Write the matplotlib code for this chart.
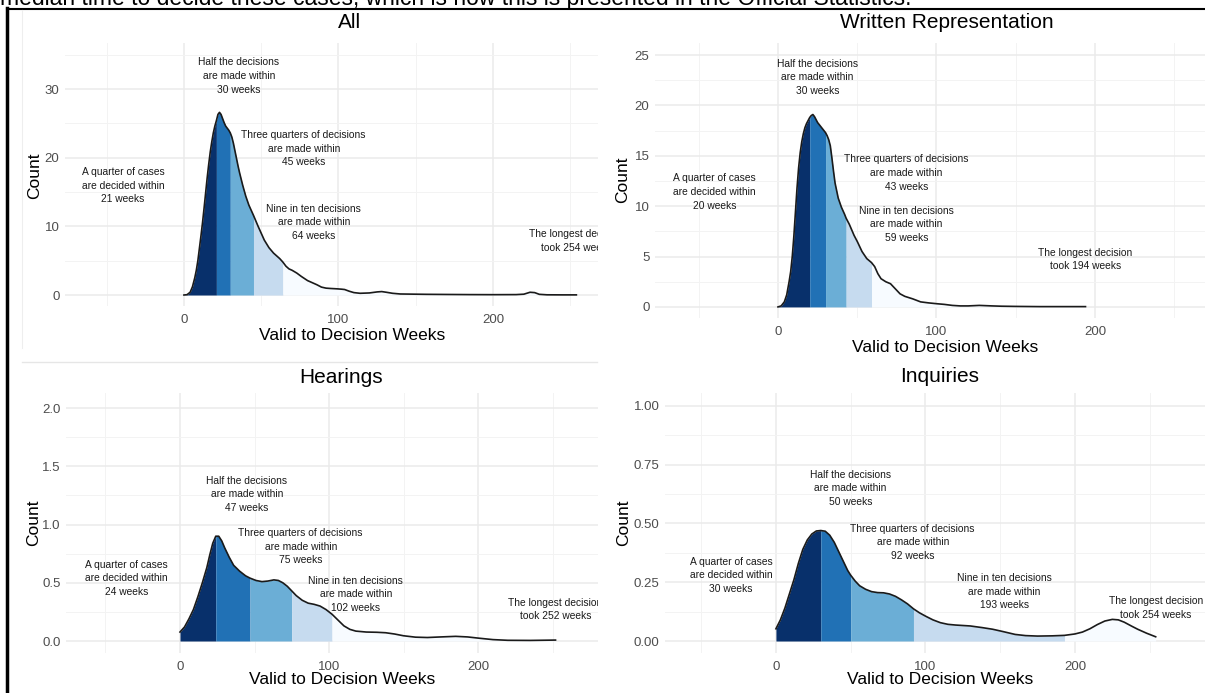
import numpy as np
import matplotlib
matplotlib.use("Agg")
import matplotlib.pyplot as plt
from matplotlib.lines import Line2D
from matplotlib.ticker import MultipleLocator, FormatStrFormatter

plt.rcParams['font.family'] = ['Liberation Sans', 'DejaVu Sans']

# density curves (weeks, count)
all_x = [0, 2, 4, 5.5, 7, 8, 9, 10, 11, 12, 13, 14, 15, 16, 17, 18, 19, 20, 21, 22, 23, 24, 25, 26,
         27, 28, 29, 30, 31, 32, 33, 34, 35, 36, 38, 40, 42, 45, 48, 50, 52, 55, 58, 60, 62, 64, 66,
         68, 70, 73, 76, 80, 83, 86, 89, 92, 95, 99, 102, 104, 107, 110, 114, 120, 125, 128, 131,
         135, 140, 150, 157, 170, 185, 200, 215, 220, 224, 227, 230, 235, 245, 254]
all_y = [0, 0.05, 0.4, 1.2, 2.5, 3.6, 5, 6.8, 8.6, 10.5, 12.6, 14.8, 17, 19, 20.8, 22.3, 23.6, 24.6,
         25.4, 26.3, 26.6, 26.3, 25.7, 25.1, 24.6, 24.3, 24, 23.6, 23, 22.1, 21, 19.9, 18.8, 17.8,
         16, 14.4, 13.1, 11.6, 10, 9, 8, 6.9, 6.1, 5.7, 5.3, 4.8, 4.2, 3.8, 3.6, 3.2, 2.7, 2.1, 1.8,
         1.5, 1.15, 1.0, 0.95, 0.9, 0.85, 0.8, 0.55, 0.35, 0.25, 0.3, 0.45, 0.5, 0.4, 0.25, 0.15,
         0.12, 0.1, 0.08, 0.06, 0.05, 0.06, 0.12, 0.4, 0.35, 0.1, 0.03, 0.02, 0.02]
all_q = [21, 30, 45, 64, 254]

written_x = [0, 2, 4, 5.5, 7, 8, 9, 10, 11, 12, 13, 14, 15, 16, 17, 18, 19, 20, 21, 22, 23, 24, 25,
             26, 27, 28, 29, 30, 31, 32, 33, 34, 35, 36, 38, 40, 42, 43, 45, 48, 50, 53, 56, 59, 61,
             63, 65, 68, 71, 74, 77, 80, 85, 90, 95, 100, 105, 110, 115, 120, 127, 135, 141, 150,
             165, 180, 194]
written_y = [0, 0.1, 0.5, 1.2, 2.5, 3.5, 5, 7, 9.4, 11.8, 13.8, 15.3, 16.4, 17.2, 17.8, 18.2, 18.5,
             18.8, 19.0, 19.1, 18.9, 18.6, 18.3, 18.1, 17.9, 17.7, 17.5, 17.3, 17.0, 16.6, 16, 14.8,
             13.5, 12.3, 10.8, 9.9, 9.2, 8.8, 8.2, 7.1, 6.5, 5.5, 4.8, 4.4, 4.0, 3.3, 2.8, 2.5, 2.3,
             1.8, 1.3, 1.05, 0.8, 0.5, 0.4, 0.32, 0.25, 0.15, 0.1, 0.1, 0.15, 0.1, 0.07, 0.05, 0.03,
             0.03, 0.03]
written_q = [20, 30, 43, 59, 194]

hearings_x = [0, 3, 6, 9, 12, 15, 18, 20, 22, 24, 26, 28, 30, 33, 36, 40, 44, 47, 51, 55, 59, 63,
              66, 69, 72, 75, 78, 82, 86, 90, 94, 98, 102, 106, 110, 114, 118, 125, 132, 138, 144,
              150, 158, 166, 175, 185, 193, 200, 210, 220, 235, 252]
hearings_y = [0.077, 0.12, 0.19, 0.27, 0.38, 0.5, 0.63, 0.74, 0.84, 0.9, 0.9, 0.86, 0.8, 0.72, 0.65,
              0.6, 0.56, 0.54, 0.52, 0.51, 0.515, 0.525, 0.52, 0.5, 0.47, 0.43, 0.39, 0.35, 0.325,
              0.315, 0.3, 0.27, 0.23, 0.18, 0.13, 0.1, 0.085, 0.077, 0.075, 0.071, 0.06, 0.045,
              0.033, 0.03, 0.035, 0.04, 0.035, 0.025, 0.012, 0.006, 0.005, 0.008]
hearings_q = [24, 47, 75, 102, 252]

inquiries_x = [0, 3, 6, 9, 12, 15, 18, 21, 24, 27, 30, 33, 36, 39, 42, 45, 48, 50, 53, 56, 60, 64,
               68, 72, 76, 80, 84, 88, 92, 96, 100, 105, 110, 115, 120, 130, 138, 145, 152, 160,
               167, 175, 185, 193, 200, 205, 210, 215, 220, 225, 229, 233, 238, 242, 248, 254]
inquiries_y = [0.052, 0.09, 0.14, 0.2, 0.26, 0.33, 0.39, 0.43, 0.455, 0.468, 0.47, 0.467, 0.45,
               0.42, 0.38, 0.34, 0.3, 0.28, 0.255, 0.235, 0.22, 0.21, 0.206, 0.205, 0.2, 0.19,
               0.175, 0.158, 0.137, 0.12, 0.106, 0.09, 0.078, 0.071, 0.068, 0.064, 0.057, 0.05,
               0.04, 0.028, 0.023, 0.021, 0.022, 0.024, 0.03, 0.038, 0.052, 0.07, 0.085, 0.092,
               0.09, 0.08, 0.063, 0.05, 0.033, 0.018]
inquiries_q = [30, 50, 92, 193, 254]

blues = ['#08306B', '#2171B5', '#6BAED6', '#C6DBEF', '#F7FBFF']

W, H = 1205, 693
fig = plt.figure(figsize=(W / 100, H / 100), dpi=100)


def px_axes(l, r, t, b):
    return fig.add_axes([l / W, 1 - b / H, (r - l) / W, (b - t) / H])


def fig_text(x, y, s, **kw):
    fig.text(x / W, 1 - y / H, s, ha='center', va='center', **kw)


def panel(box, xlim, ylim, ymaj, fmt, xs, ys, q, title, tpos, xlpos, ylpos, notes):
    ax = px_axes(*box)
    ax.set_xlim(*xlim)
    ax.set_ylim(*ylim)
    for s in ax.spines.values():
        s.set_visible(False)
    ax.xaxis.set_major_locator(MultipleLocator(100))
    ax.xaxis.set_minor_locator(MultipleLocator(50))
    ax.yaxis.set_major_locator(MultipleLocator(ymaj))
    ax.yaxis.set_minor_locator(MultipleLocator(ymaj / 2))
    ax.yaxis.set_major_formatter(FormatStrFormatter(fmt))
    ax.grid(which='major', color='#EBEBEB', lw=1.1)
    ax.grid(which='minor', color='#F3F3F3', lw=0.7)
    ax.set_axisbelow(True)
    ax.tick_params(which='both', length=0, labelsize=9.5, labelcolor='#4D4D4D')
    ax.tick_params(axis='y', pad=4)
    ax.tick_params(axis='x', pad=6)

    x = np.array(xs, dtype=float)
    y = np.array(ys, dtype=float)
    lo = 0
    for hi, c in zip(q, blues):
        m = (x >= lo) & (x <= hi)
        ax.fill_between(x, 0, y, where=m, color=c, lw=0, zorder=2)
        lo = hi
    ax.plot(x, y, color='#1a1a1a', lw=1.2, zorder=3, solid_joinstyle='round')

    texts = ["A quarter of cases\nare decided within\n%d weeks" % q[0],
             "Half the decisions\nare made within\n%d weeks" % q[1],
             "Three quarters of decisions\nare made within\n%d weeks" % q[2],
             "Nine in ten decisions\nare made within\n%d weeks" % q[3],
             "The longest decision\ntook %d weeks" % q[4]]
    for s, (tx, ty) in zip(texts, notes):
        ax.text(tx, ty, s, ha='center', va='center', fontsize=7.4, color='#1a1a1a',
                linespacing=1.45, clip_on=True, zorder=4)

    fig_text(*tpos, title, fontsize=15)
    fig_text(*xlpos, "Valid to Decision Weeks", fontsize=12.5)
    fig_text(*ylpos, "Count", fontsize=12.5, rotation=90)
    return ax


panel((65, 598, 43, 306), (-77, 268), (-1.6, 36.7), 10, '%d', all_x, all_y, all_q,
      "All", (350, 23), (352, 335), (35, 176),
      [(-39.5, 15.9), (35.5, 31.9), (77.5, 21.3), (84, 10.6), (254, 7.9)])

panel((655, 1205, 43, 318), (-77.6, 269.4), (-1.1, 26.2), 5, '%d', written_x, written_y, written_q,
      "Written Representation", (947, 22), (945, 348), (623, 180),
      [(-40, 11.4), (25, 22.8), (81, 13.3), (81, 8.2), (194, 4.7)])

panel((66, 598, 393, 653), (-76.5, 280.5), (-0.103, 2.13), 0.5, '%.1f', hearings_x, hearings_y,
      hearings_q, "Hearings", (341, 377), (342, 680), (34, 523),
      [(-36, 0.54), (45, 1.26), (81, 0.81), (118, 0.40), (252, 0.27)])

panel((665, 1205, 393, 653), (-74.2, 287), (-0.051, 1.055), 0.25, '%.2f', inquiries_x, inquiries_y,
      inquiries_q, "Inquiries", (940, 376), (940, 680), (624, 523),
      [(-30, 0.28), (50, 0.65), (91.5, 0.42), (152.7, 0.21), (254, 0.14)])

# surrounding document bits of the screenshot
fig.text(0.0, 1 - 5 / H, "median time to decide these cases, which is how this is presented in the Official Statistics.",
         ha='left', va='baseline', fontsize=16.5)


def px_line(xs, ys, **kw):
    fig.add_artist(Line2D([v / W for v in xs], [1 - v / H for v in ys], transform=fig.transFigure, **kw))


px_line([7, W], [8.5, 8.5], color='black', lw=1.5)
px_line([7, 7], [8, H], color='black', lw=2.5)
px_line([22, 22], [10, 348], color='#EEEEEE', lw=0.8)
px_line([22, 597], [362, 362], color='#E6E6E6', lw=1.0)

fig.savefig("out.png", dpi=100)
